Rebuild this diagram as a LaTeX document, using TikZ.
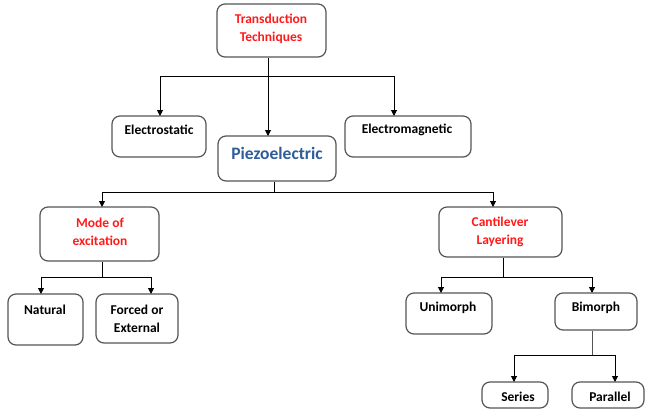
\documentclass[tikz,border=0pt]{standalone}
\usepackage{fontspec}
\setmainfont{Carlito}
\usetikzlibrary{arrows.meta}
\definecolor{boxline}{HTML}{555555}
\definecolor{redtxt}{HTML}{FF1A1A}
\definecolor{bluetxt}{HTML}{2F5D99}
\tikzset{
  box/.style={draw=boxline, line width=1.2pt, rounded corners=8pt, inner sep=0pt},
  lbl/.style={font=\fontsize{13.5}{18}\selectfont\bfseries, align=center, inner sep=0pt, text=black},
  redlbl/.style={lbl, text=redtxt},
  conn/.style={draw=black, line width=1pt},
  arr/.style={conn, -{Triangle[length=6pt,width=6pt]}}
}
\newcommand{\mybox}[5]{% name, x1, y1, x2, y2
  \node[box, minimum width={(#4-#2)*1pt}, minimum height={(#5-#3)*1pt}] (#1) at ({(#2+#4)/2},{(#3+#5)/2}) {};}
\begin{document}
\begin{tikzpicture}[x=1pt,y=-1pt]
\useasboundingbox (0,0) rectangle (645,412);
% boxes
\mybox{tt}{217}{4}{326}{57}
\mybox{es}{112}{116}{206}{157}
\mybox{pz}{218}{136}{336}{181}
\mybox{em}{345}{116}{471}{157}
\mybox{me}{40}{207}{159}{261}
\mybox{cl}{439}{207}{562}{257}
\mybox{na}{8}{294}{83}{345}
\mybox{fe}{96}{294}{178}{343}
\mybox{un}{406}{293}{492}{334}
\mybox{bi}{555}{293}{637}{330}
\mybox{se}{482}{382}{548}{408}
\mybox{pa}{572}{382}{644}{408}
% labels
\node[redlbl] (ttl) at (271,28.5) {Transduction\\Techniques};
\node[lbl] (esl) at (159,130) {Electrostatic};
\node[lbl, text=bluetxt, font=\fontsize{17.5}{20}\selectfont\bfseries] (pzl) at (277,153.5) {Piezoelectric};
\node[lbl] (eml) at (407,130) {Electromagnetic};
\node[redlbl] (mel) at (100,232) {Mode of\\excitation};
\node[redlbl] (cll) at (500,232) {Cantilever\\Layering};
\node[lbl] (nal) at (45,310) {Natural};
\node[lbl] (fel) at (137,319) {Forced or\\External};
\node[lbl] (unl) at (448,308) {Unimorph};
\node[lbl] (bil) at (596,308) {Bimorph};
\node[lbl] (sel) at (518,397) {Series};
\node[lbl] (pal) at (610,397) {Parallel};
% junction coordinates
\coordinate (j1) at (268,76);
\coordinate (j2) at (274,192);
\coordinate (j3) at (102,277);
\coordinate (j4) at (503,277);
\coordinate (j5) at (592,355);
% arrow targets (on box tops)
\coordinate (tes) at (160,116);
\coordinate (tpz) at (268,136);
\coordinate (tem) at (394,116);
\coordinate (tme) at (102,207);
\coordinate (tcl) at (493,207);
\coordinate (tna) at (41,294);
\coordinate (tfe) at (151,294);
\coordinate (tun) at (441,293);
\coordinate (tbi) at (592,293);
\coordinate (tse) at (514,382);
\coordinate (tpa) at (615,382);
% level 1
\draw[conn] (tt.south -| j1) -- (j1);
\draw[arr] (j1) -- (tpz);
\draw[arr] (j1) -| (tes);
\draw[arr] (j1) -| (tem);
% level 2
\draw[conn] (pz.south -| j2) -- (j2);
\draw[arr] (j2) -| (tme);
\draw[arr] (j2) -| (tcl);
% mode
\draw[conn] (me.south -| j3) -- (j3);
\draw[arr] (j3) -| (tna);
\draw[arr] (j3) -| (tfe);
% cantilever
\draw[conn] (cl.south -| j4) -- (j4);
\draw[arr] (j4) -| (tun);
\draw[arr] (j4) -| (tbi);
% bimorph
\draw[conn, draw=boxline] (bi.south -| j5) -- (j5);
\draw[arr] (j5) -| (tse);
\draw[arr] (j5) -| (tpa);
\end{tikzpicture}
\end{document}
